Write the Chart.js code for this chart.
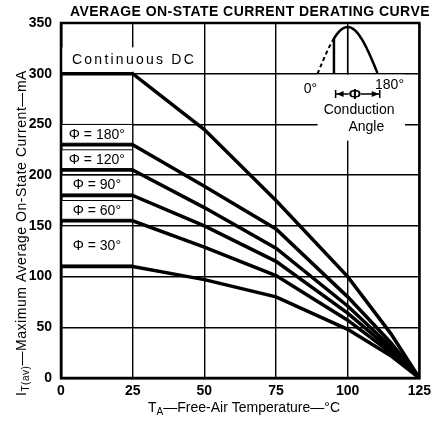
<!DOCTYPE html>
<html>
<head>
<meta charset="utf-8">
<script src="https://cdn.jsdelivr.net/npm/chart.js@4.4.1/dist/chart.umd.min.js"></script>
<style>
    html, body { margin: 0; padding: 0; background: #fff; }
    #wrap { width: 436px; height: 423px; }
</style>
</head>
<body>
<div id="wrap"><canvas id="deratingChart"></canvas></div>
<script>
// Derating curves
const temps    = [0, 25, 50, 75, 100, 115, 125];
const dcAmps   = [300, 300, 245, 175, 100, 44, 0];
const phi180   = [230, 230, 189, 147, 80, 35, 0];
const phi120   = [205, 205, 168, 128, 71, 31, 0];
const phi90    = [180, 180, 150, 115, 64, 28, 0];
const phi60    = [155, 155, 129, 101, 57, 25, 0];
const phi30    = [110, 110, 97, 80, 48, 22, 0];

const phiLabels = ['\u03A6 = 180\u00B0', '\u03A6 = 120\u00B0', '\u03A6 = 90\u00B0', '\u03A6 = 60\u00B0', '\u03A6 = 30\u00B0'];
const phiBoxTops = [250, 225, 200, 175, 150];
const phiSeries = [phi180, phi120, phi90, phi60, phi30];

const xTicks = [0, 25, 50, 75, 100, 125];
const yTicks = [0, 50, 100, 150, 200, 250, 300, 350];

const FONT = 'Liberation Sans, Arial, sans-serif';

Chart.defaults.font.family = FONT;
Chart.defaults.font.size = 14;
Chart.defaults.font.weight = 'bold';
Chart.defaults.color = '#000';

function toPoints(vals) {
    return temps.map((t, i) => ({ x: t, y: vals[i] }));
}

// measure / draw a run of text pieces (for subscripts and letter spacing)
function drawRun(ctx, pieces, cx, cy, target) {
    let w = 0, n = 0;
    pieces.forEach(p => {
        ctx.font = p.font;
        ctx.letterSpacing = '0px';
        p.w = ctx.measureText(p.t).width;
        w += p.w;
        n += [...p.t].length;
    });
    const sp = target ? (target - w) / n : 0;
    const total = target || w;
    let x = cx - total / 2;
    ctx.textAlign = 'left';
    ctx.textBaseline = 'middle';
    pieces.forEach(p => {
        ctx.font = p.font;
        ctx.letterSpacing = sp + 'px';
        ctx.fillText(p.t, x, cy + (p.dy || 0));
        x += p.w + sp * [...p.t].length;
    });
    ctx.letterSpacing = '0px';
}

const annotations = {
    id: 'annotations',
    afterDatasetsDraw(chart) {
        const { ctx, chartArea: a, scales: { x, y } } = chart;
        const px = v => x.getPixelForValue(v);
        const py = v => y.getPixelForValue(v);
        ctx.save();
        ctx.fillStyle = '#000';
        ctx.strokeStyle = '#000';

        // Continuous DC label
        ctx.fillStyle = '#fff';
        ctx.fillRect(px(0) + 1, py(326), px(48) - px(0) - 1, py(302) - py(326));
        ctx.fillStyle = '#000';
        drawRun(ctx, [{ t: 'Continuous DC', font: '14px ' + FONT }], 134, py(313), 124);

        // conduction angle labels
        phiLabels.forEach((lab, i) => {
            const top = py(phiBoxTops[i]);
            const bot = py(phiSeries[i][0]) - 1.5;
            ctx.fillStyle = '#fff';
            ctx.fillRect(px(0), top, px(25) - px(0), bot - top);
            ctx.lineWidth = 1;
            ctx.strokeRect(px(0), top, px(25) - px(0), bot - top);
            ctx.fillStyle = '#000';
            drawRun(ctx, [{ t: lab, font: '14px ' + FONT }], px(12.5), (top + bot) / 2 + 1);
        });

        // inset: half sine with conduction angle
        ctx.fillStyle = '#fff';
        ctx.fillRect(px(89.5), py(299), px(120) - px(89.5), py(234) - py(299));
        ctx.fillStyle = '#000';
        const s0 = 89.5, s1 = 110.5, base = 300, peak = 346, cond = 49;
        const sx = deg => px(s0 + (s1 - s0) * deg / 180);
        const sy = deg => py(base + (peak - base) * Math.sin(deg * Math.PI / 180));
        ctx.lineWidth = 2;
        ctx.setLineDash([4, 3]);
        ctx.beginPath();
        for (let d = 0; d <= cond; d += 2) d === 0 ? ctx.moveTo(sx(d), sy(d)) : ctx.lineTo(sx(d), sy(d));
        ctx.stroke();
        ctx.setLineDash([]);
        ctx.lineWidth = 2.5;
        ctx.beginPath();
        ctx.moveTo(sx(cond), py(base));
        for (let d = cond; d <= 180; d += 2) ctx.lineTo(sx(d), sy(d));
        ctx.stroke();
        ctx.lineWidth = 1.5;
        ctx.beginPath();
        ctx.moveTo(sx(90), py(base));
        ctx.lineTo(sx(90), sy(90));
        ctx.stroke();

        drawRun(ctx, [{ t: '0\u00B0', font: '14px ' + FONT }], px(87), py(285));
        drawRun(ctx, [{ t: '180\u00B0', font: '14px ' + FONT }], px(114.6), py(289));

        // arrow |<- PHI ->|
        const ay = py(280), ax0 = px(95.8), ax1 = px(111.2), amid = px(102.5);
        ctx.lineWidth = 1.5;
        ctx.beginPath();
        ctx.moveTo(ax0, ay - 4); ctx.lineTo(ax0, ay + 4);
        ctx.moveTo(ax1, ay - 4); ctx.lineTo(ax1, ay + 4);
        ctx.moveTo(ax0, ay); ctx.lineTo(ax1, ay);
        ctx.stroke();
        ctx.beginPath();
        ctx.moveTo(ax0 + 1, ay); ctx.lineTo(ax0 + 8, ay - 3); ctx.lineTo(ax0 + 8, ay + 3); ctx.closePath();
        ctx.moveTo(ax1 - 1, ay); ctx.lineTo(ax1 - 8, ay - 3); ctx.lineTo(ax1 - 8, ay + 3); ctx.closePath();
        ctx.fill();
        ctx.fillStyle = '#fff';
        ctx.fillRect(amid - 6, ay - 7, 12, 14);
        ctx.fillStyle = '#000';
        drawRun(ctx, [{ t: '\u03A6', font: 'bold 15px ' + FONT }], amid, ay + 1);

        drawRun(ctx, [{ t: 'Conduction', font: '14px ' + FONT }], px(104), py(264));
        drawRun(ctx, [{ t: 'Angle', font: '14px ' + FONT }], px(106.5), py(247));

        // frame
        ctx.lineWidth = 2.5;
        ctx.strokeRect(a.left, a.top, a.right - a.left, a.bottom - a.top);

        // titles
        drawRun(ctx, [{ t: 'AVERAGE ON-STATE CURRENT DERATING CURVE', font: 'bold 14px ' + FONT }], 250, 12, 360);
        drawRun(ctx, [
            { t: 'T', font: '14px ' + FONT },
            { t: 'A', font: '10px ' + FONT, dy: 4 },
            { t: '\u2014Free-Air Temperature\u2014\u00B0C', font: '14px ' + FONT }
        ], 244, 408);

        ctx.translate(22, 233);
        ctx.rotate(-Math.PI / 2);
        drawRun(ctx, [
            { t: 'I', font: '14px ' + FONT },
            { t: 'T(av)', font: '10px ' + FONT, dy: 4 },
            { t: '\u2014Maximum Average On-State Current\u2014mA', font: '14px ' + FONT }
        ], 0, 0, 326);
        ctx.restore();
    }
};

const ctx = document.getElementById('deratingChart');
new Chart(ctx, {
    type: 'line',
    data: {
        datasets: [dcAmps, phi180, phi120, phi90, phi60, phi30].map((vals, i) => ({
            label: i === 0 ? 'Continuous DC' : phiLabels[i - 1],
            data: toPoints(vals),
            borderColor: '#000',
            borderWidth: 3.5,
            pointRadius: 0,
            tension: 0,
            fill: false
        }))
    },
    options: {
        responsive: true,
        maintainAspectRatio: false,
        animation: false,
        layout: { padding: { top: 23, right: 14, left: 0, bottom: 0 } },
        plugins: {
            legend: { display: false },
            tooltip: { enabled: false }
        },
        scales: {
            x: {
                type: 'linear',
                min: 0,
                max: 125,
                afterBuildTicks: axis => { axis.ticks = xTicks.map(v => ({ value: v })); },
                afterFit: axis => { axis.height = 45; },
                grid: { color: '#000', lineWidth: 1.4, drawTicks: false },
                border: { color: '#000', width: 2.5 },
                ticks: {
                    color: '#000',
                    padding: 5,
                    maxRotation: 0,
                    autoSkip: false,
                    font: { family: FONT, size: 14, weight: 'bold' }
                }
            },
            y: {
                min: 0,
                max: 350,
                afterBuildTicks: axis => { axis.ticks = yTicks.map(v => ({ value: v })); },
                afterFit: axis => { axis.width = 61; },
                grid: { color: '#000', lineWidth: 1.4, drawTicks: false },
                border: { color: '#000', width: 2.5 },
                ticks: {
                    color: '#000',
                    padding: 9,
                    autoSkip: false,
                    font: { family: FONT, size: 14, weight: 'bold' }
                }
            }
        }
    },
    plugins: [annotations]
});
</script>
</body>
</html>
